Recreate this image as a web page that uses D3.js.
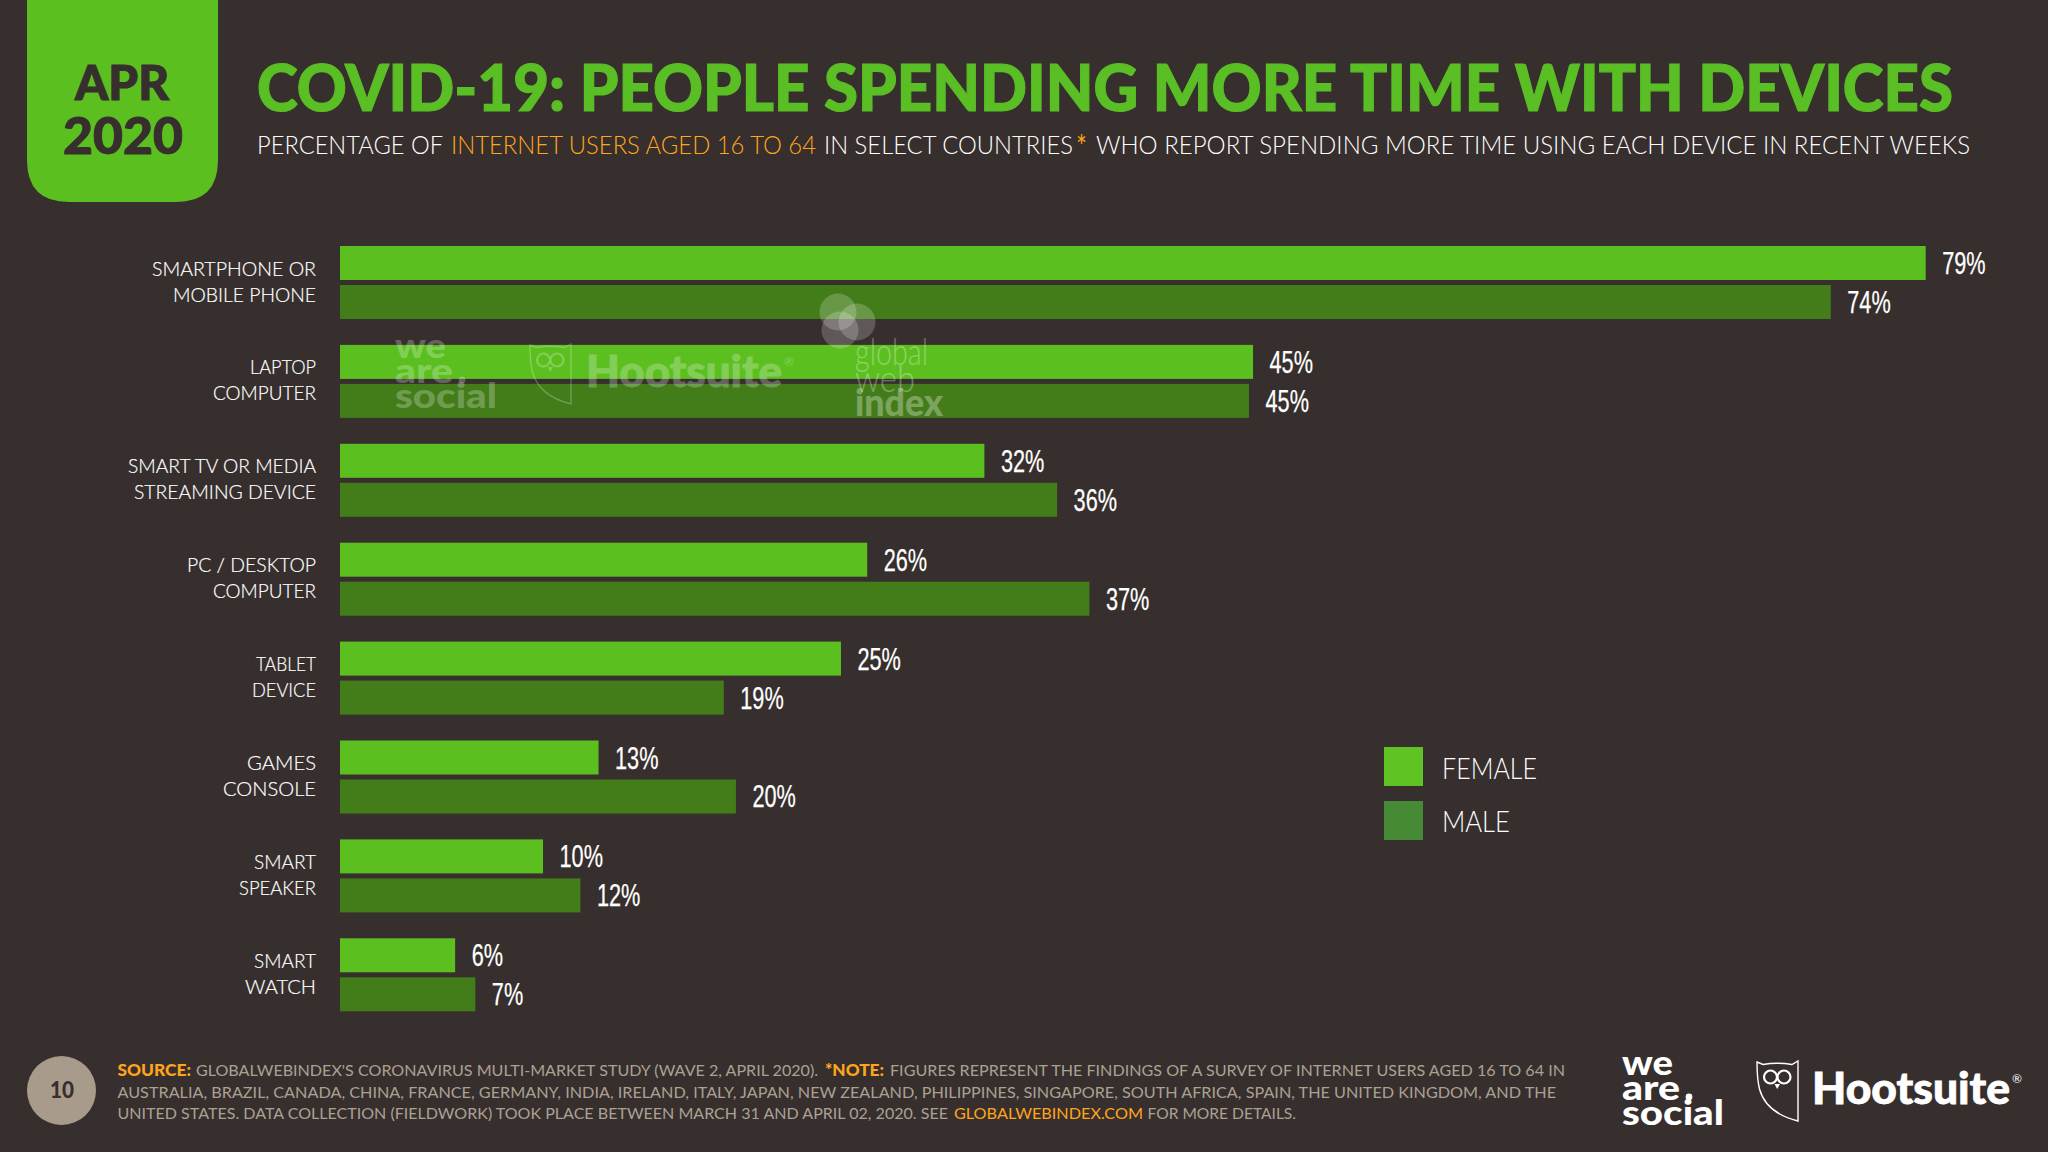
<!DOCTYPE html>
<html><head><meta charset="utf-8">
<script src="https://cdn.jsdelivr.net/npm/d3@7"></script>
<style>html,body{margin:0;padding:0;background:#372f2e}svg{display:block}text{font-family:Lato,"Open Sans",sans-serif}</style>
</head><body><svg id="c" width="2048" height="1152"></svg>
<script>
// ---- data ----
const categories = ["SMARTPHONE OR\nMOBILE PHONE","LAPTOP\nCOMPUTER","SMART TV OR MEDIA\nSTREAMING DEVICE","PC / DESKTOP\nCOMPUTER","TABLET\nDEVICE","GAMES\nCONSOLE","SMART\nSPEAKER","SMART\nWATCH"];
const female = [78.5,45.2,31.9,26.1,24.8,12.8,10.05,5.7];
const male   = [73.8,45.0,35.5,37.1,19.0,19.6,11.9,6.7];
const seriesNames = ["FEMALE","MALE"];
// ---- style / layout ----
const labelLineWidths = [[164,143],[66,103],[188,182],[129,103],[60,64],[69,93],[62,77],[62,71]];
const C = {bg:"#372f2e",female:"#5cbf20",male:"#437d1a",legFemale:"#5fc423",legMale:"#478a36",title:"#5abe25",orange:"#ffa51c",gray:"#aba193",badge:"#a89b8c",white:"#ffffff"};
const svg = d3.select("#c");
svg.append("rect").attr("width",2048).attr("height",1152).attr("fill",C.bg);

function fit(g,x1,x2,y,str,o={}){
  const t=g.append("text").attr("x",x1).attr("y",y).attr("textLength",x2-x1).attr("lengthAdjust","spacingAndGlyphs")
    .attr("font-size",o.size||20).attr("font-weight",o.weight||400).attr("fill",o.fill||C.white)
    .attr("opacity",o.opacity==null?null:o.opacity).text(str);
  if(o.bolden) t.attr("stroke",o.fill).attr("stroke-width",o.bolden);
  return t;
}
// date tab
const tabPath = d3.path();
tabPath.moveTo(27,0);tabPath.lineTo(218,0);tabPath.lineTo(218,160);tabPath.quadraticCurveTo(218,202,176,202);
tabPath.lineTo(69,202);tabPath.quadraticCurveTo(27,202,27,160);tabPath.closePath();
svg.append("path").attr("d",tabPath.toString()).attr("fill",C.female);
fit(svg,75,169,100,"APR",{size:48,weight:900,fill:C.bg,bolden:1});
fit(svg,63,183,154,"2020",{size:51,weight:900,fill:C.bg,bolden:1});
// title
fit(svg,257,1953,111,"COVID-19: PEOPLE SPENDING MORE TIME WITH DEVICES",{size:64,weight:900,fill:C.title,bolden:1.2});
const subY=154,subS={size:25,weight:300};
fit(svg,257,443,subY,"PERCENTAGE OF",subS);
fit(svg,451,816,subY,"INTERNET USERS AGED 16 TO 64",{...subS,fill:C.orange});
fit(svg,824,1073,subY,"IN SELECT COUNTRIES",subS);
fit(svg,1076,1087,subY+3,"*",{size:30,weight:400,fill:C.orange});
fit(svg,1096,1970,subY,"WHO REPORT SPENDING MORE TIME USING EACH DEVICE IN RECENT WEEKS",subS);

// watermark + logos helper
function weAreSocial(g,x,y0,o){
  const s={size:34,weight:900,fill:o.fill,opacity:o.opacity};
  fit(g,x,x+51,y0,"we",s);
  fit(g,x,x+58,y0+25,"are",s);
  g.append("circle").attr("cx",x+67).attr("cy",y0+22).attr("r",3.4).attr("fill",o.fill).attr("opacity",o.opacity);
  fit(g,x,x+102,y0+50,"social",s);
}
function owl(g,x,y,o){
  const u=g.append("g").attr("transform",`translate(${x},${y})`).attr("opacity",o.opacity);
  u.append("path").attr("d","M0 1 L6 3.5 Q20 1 35 3.5 L41 0 V60 Q9 52 2.5 28 Q0 18 0 1 Z").attr("fill","none").attr("stroke",o.fill).attr("stroke-width",1.4);
  [13.5,27].forEach(cx=>u.append("circle").attr("cx",cx).attr("cy",16).attr("r",6.5).attr("fill","none").attr("stroke",o.fill).attr("stroke-width",2.2));
  u.append("path").attr("d","M17.5 23 L23 23 L20.2 28 Z").attr("fill",o.fill);
}
function hootsuite(g,x1,x2,y,o){
  fit(g,x1,x2,y,"Hootsuite",{size:44,weight:900,fill:o.fill,opacity:o.opacity,bolden:.8});
  fit(g,x2+2,x2+12,y-21,"®",{size:11,weight:400,fill:o.fill,opacity:o.opacity});
}

// chart
const x = d3.scaleLinear().domain([0,80]).range([340,1956]);
const y0 = d3.scaleBand().domain(categories).range([246,1011.3]).paddingInner(0.2619).paddingOuter(0);
const y1 = d3.scaleBand().domain(seriesNames).range([0,y0.bandwidth()]).paddingInner(0.128).paddingOuter(0);
const colour = d3.scaleOrdinal().domain(seriesNames).range([C.female,C.male]);
const rows = categories.map((c,i)=>({c,i,vals:[{s:"FEMALE",v:female[i]},{s:"MALE",v:male[i]}]}));
const fmt = d3.format(".0f");
const groups = svg.append("g").selectAll("g").data(rows).join("g").attr("transform",d=>`translate(0,${y0(d.c)})`);
groups.selectAll("rect").data(d=>d.vals).join("rect")
  .attr("x",x(0)).attr("y",d=>y1(d.s)).attr("width",d=>x(d.v)-x(0)).attr("height",y1.bandwidth()).attr("fill",d=>colour(d.s));
groups.selectAll("text.v").data(d=>d.vals).join("text").attr("class","v")
  .attr("x",d=>x(d.v)+16.5).attr("y",d=>y1(d.s)+y1.bandwidth()/2+11)
  .attr("fill",C.white).attr("font-size",31).style("font-family",'"Liberation Sans"')
  .attr("stroke",C.white).attr("stroke-width",0.25)
  .text(d=>{const r=Math.round(d.v+1e-9);return fmt(r)+"%";})
  .each(function(){ this.setAttribute("textLength",this.getComputedTextLength()*0.70); this.setAttribute("lengthAdjust","spacingAndGlyphs"); });
// category labels
rows.forEach(d=>{
  d.c.split("\n").forEach((ln,j)=>{
    const w=labelLineWidths[d.i][j], base=y0(d.c)+29.5+j*26;
    fit(svg,316-w,316,base,ln,{size:20.5,weight:300,bolden:.2,fill:C.white});
  });
});
// legend
const leg = svg.append("g");
seriesNames.forEach((s,i)=>{
  leg.append("rect").attr("x",1384).attr("y",747+i*54).attr("width",39).attr("height",39).attr("fill",i?C.legMale:C.legFemale);
});
fit(leg,1442,1537,779,seriesNames[0],{size:29,weight:300});
fit(leg,1442,1510,832,seriesNames[1],{size:29,weight:300});
// watermark
const wm = svg.append("g");
const wmO={fill:"#ffffff",opacity:.24};
weAreSocial(wm,395,358,wmO);
owl(wm,530,344,wmO);
hootsuite(wm,586,782,387,wmO);
[[838,312],[857,322],[840,330]].forEach(([cx,cy])=>wm.append("circle").attr("cx",cx).attr("cy",cy).attr("r",18.5).attr("fill","#fff").attr("opacity",.2));
fit(wm,855,928,365,"global",{size:38,weight:300,fill:"#fff",opacity:.3});
fit(wm,855,915,392,"web",{size:38,weight:300,fill:"#fff",opacity:.3});
fit(wm,855,943,416,"index",{size:38,weight:900,fill:"#fff",opacity:.3});
// footer
svg.append("circle").attr("cx",61.5).attr("cy",1090.5).attr("r",34.5).attr("fill",C.badge);
fit(svg,50,74,1098,"10",{size:22,weight:900,fill:C.bg});
const fS={size:16,weight:400,fill:C.gray}, fB={size:16,weight:900,fill:C.orange}, fO={size:16,weight:400,fill:C.orange};
fit(svg,117.5,191,1076,"SOURCE:",fB);
fit(svg,196,818,1076,"GLOBALWEBINDEX'S CORONAVIRUS MULTI-MARKET STUDY (WAVE 2, APRIL 2020).",fS);
fit(svg,825,884,1076,"*NOTE:",fB);
fit(svg,890,1565,1076,"FIGURES REPRESENT THE FINDINGS OF A SURVEY OF INTERNET USERS AGED 16 TO 64 IN",fS);
fit(svg,117.5,1556,1097.7,"AUSTRALIA, BRAZIL, CANADA, CHINA, FRANCE, GERMANY, INDIA, IRELAND, ITALY, JAPAN, NEW ZEALAND, PHILIPPINES, SINGAPORE, SOUTH AFRICA, SPAIN, THE UNITED KINGDOM, AND THE",fS);
fit(svg,117.5,948,1119,"UNITED STATES. DATA COLLECTION (FIELDWORK) TOOK PLACE BETWEEN MARCH 31 AND APRIL 02, 2020. SEE",fS);
fit(svg,954,1143,1119,"GLOBALWEBINDEX.COM",fO);
fit(svg,1147.5,1296,1119,"FOR MORE DETAILS.",fS);
// logos
const lg=svg.append("g"), lgO={fill:"#ffffff",opacity:1};
weAreSocial(lg,1622,1075,lgO);
owl(lg,1757,1061,lgO);
hootsuite(lg,1812,2010,1104,lgO);
</script></body></html>
